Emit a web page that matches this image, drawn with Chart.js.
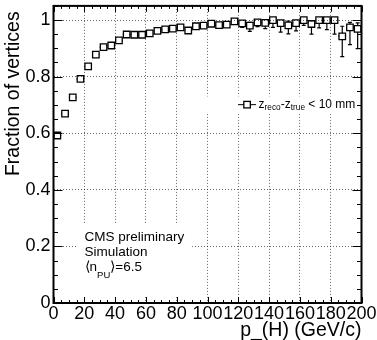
<!DOCTYPE html>
<html>
<head>
<meta charset="utf-8">
<script src="https://cdn.jsdelivr.net/npm/chart.js@4.4.1/dist/chart.umd.min.js"></script>
<style>
  html, body { margin: 0; padding: 0; background: #fff; }
</style>
</head>
<body>
<canvas id="effChart" width="377" height="340"></canvas>
<script>
// bin centres of p_T(H), 5 GeV bins
const binCenters = [2.5, 7.5, 12.5, 17.5, 22.5, 27.5, 32.5, 37.5, 42.5, 47.5,
  52.5, 57.5, 62.5, 67.5, 72.5, 77.5, 82.5, 87.5, 92.5, 97.5,
  102.5, 107.5, 112.5, 117.5, 122.5, 127.5, 132.5, 137.5, 142.5, 147.5,
  152.5, 157.5, 162.5, 167.5, 172.5, 177.5, 182.5, 187.5, 192.5, 197.5];
const binHalfWidth = 2.5;

const efficiency = [0.592, 0.669, 0.727, 0.792, 0.836, 0.878, 0.904, 0.910, 0.928, 0.949,
  0.948, 0.948, 0.953, 0.962, 0.967, 0.970, 0.974, 0.963, 0.978, 0.980,
  0.987, 0.982, 0.984, 0.995, 0.988, 0.980, 0.992, 0.990, 1.000, 0.989,
  0.981, 0.989, 1.000, 0.986, 1.000, 1.000, 1.000, 0.942, 0.974, 0.969];
const errLow = [0.006, 0.006, 0.006, 0.006, 0.006, 0.006, 0.006, 0.006, 0.006, 0.006,
  0.007, 0.007, 0.007, 0.007, 0.008, 0.008, 0.008, 0.010, 0.008, 0.009,
  0.008, 0.010, 0.010, 0.008, 0.014, 0.020, 0.015, 0.020, 0.026, 0.032,
  0.030, 0.027, 0.019, 0.036, 0.028, 0.034, 0.050, 0.071, 0.061, 0.070];
const errHigh = [0.006, 0.006, 0.006, 0.006, 0.006, 0.006, 0.006, 0.006, 0.006, 0.006,
  0.006, 0.006, 0.006, 0.006, 0.007, 0.007, 0.007, 0.009, 0.007, 0.008,
  0.007, 0.008, 0.008, 0.005, 0.008, 0.012, 0.007, 0.008, 0.000, 0.010,
  0.015, 0.010, 0.000, 0.012, 0.000, 0.000, 0.000, 0.036, 0.018, 0.021];

const xTickValues = [0, 20, 40, 60, 80, 100, 120, 140, 160, 180, 200];
const yTickValues = [0, 0.2, 0.4, 0.6, 0.8, 1];
const yTickLabels = ['0', '0.2', '0.4', '0.6', '0.8', '1'];

const FONT = "'Liberation Sans', Arial, Helvetica, sans-serif";
const MARKER_R = 4.6;
const markerHalf = MARKER_R * Math.SQRT1_2;

// ROOT-like frame, inner ticks, error bars, text boxes
const rootStyle = {
  id: 'rootStyle',
  beforeDatasetsDraw(chart) {
    const {ctx, scales: {x, y}} = chart;
    ctx.save();
    ctx.fillStyle = '#fff';
    // text pave
    let l = x.getPixelForValue(15), r = x.getPixelForValue(90);
    let t = y.getPixelForValue(0.276), b = y.getPixelForValue(0.021);
    ctx.fillRect(l, t, r - l, b - t);
    ctx.fillStyle = '#000';
    ctx.textBaseline = 'alphabetic';
    ctx.font = '13.5px ' + FONT;
    const tx = l + 8;
    ctx.fillText('CMS preliminary', tx, t + 16);
    ctx.fillText('Simulation', tx, t + 31);
    let cx = tx;
    ctx.fillText('\u27E8n', cx, t + 46);
    cx += ctx.measureText('\u27E8n').width;
    ctx.font = '9.5px ' + FONT;
    ctx.fillText('PU', cx, t + 53);
    cx += ctx.measureText('PU').width;
    ctx.font = '13.5px ' + FONT;
    ctx.fillText('\u27E9=6.5', cx, t + 46);

    // legend pave
    ctx.fillStyle = '#fff';
    l = x.getPixelForValue(98.5); r = x.getPixelForValue(196);
    t = y.getPixelForValue(0.73); b = y.getPixelForValue(0.67);
    ctx.fillRect(l, t, r - l, b - t);
    const mx = x.getPixelForValue(125.7), my = y.getPixelForValue(0.701);
    ctx.strokeStyle = '#000';
    ctx.lineWidth = 1;
    ctx.beginPath();
    ctx.moveTo(mx - 9, my); ctx.lineTo(mx - markerHalf, my);
    ctx.moveTo(mx + markerHalf, my); ctx.lineTo(mx + 9, my);
    ctx.stroke();
    ctx.lineWidth = 1.3;
    ctx.strokeRect(mx - markerHalf, my - markerHalf, 2 * markerHalf, 2 * markerHalf);
    ctx.fillStyle = '#000';
    ctx.textBaseline = 'middle';
    cx = mx + 11.5;
    const big = '12px ' + FONT, small = '8.3px ' + FONT;
    const parts = [['z', big, 0], ['reco', small, 3], ['-z', big, 0], ['true', small, 3], [' < 10 mm', big, 0]];
    parts.forEach(([s, f, dy]) => {
      ctx.font = f;
      ctx.fillText(s, cx, my + dy);
      cx += ctx.measureText(s).width;
    });
    ctx.restore();
  },
  afterDatasetsDraw(chart) {
    const {ctx, scales: {x, y}} = chart;
    const meta = chart.getDatasetMeta(0);
    ctx.save();
    ctx.strokeStyle = '#000';
    ctx.lineWidth = 1.2;
    ctx.beginPath();
    meta.data.forEach((pt, i) => {
      const px = pt.x, py = pt.y;
      const yLo = y.getPixelForValue(efficiency[i] - errLow[i]);
      const yHi = y.getPixelForValue(efficiency[i] + errHigh[i]);
      const xL = x.getPixelForValue(binCenters[i] - binHalfWidth);
      const xR = x.getPixelForValue(binCenters[i] + binHalfWidth);
      if (yLo > py + markerHalf) {
        ctx.moveTo(px, py + markerHalf); ctx.lineTo(px, yLo);
        ctx.moveTo(px - 2, yLo); ctx.lineTo(px + 2, yLo);
      }
      if (yHi < py - markerHalf) {
        ctx.moveTo(px, py - markerHalf); ctx.lineTo(px, yHi);
        ctx.moveTo(px - 2, yHi); ctx.lineTo(px + 2, yHi);
      }
      if (xL < px - markerHalf) {
        ctx.moveTo(xL, py); ctx.lineTo(px - markerHalf, py);
        ctx.moveTo(px + markerHalf, py); ctx.lineTo(xR, py);
      }
    });
    ctx.stroke();
    ctx.restore();
  },
  afterDraw(chart) {
    const {ctx, chartArea: {left, right, top, bottom}, scales: {x, y}} = chart;
    ctx.save();
    ctx.strokeStyle = '#000';
    ctx.lineWidth = 1;
    ctx.beginPath();
    for (let v = 0; v <= 200; v += 5) {
      const p = Math.round(x.getPixelForValue(v)) + 0.5;
      const len = v % 20 === 0 ? 6 : 3;
      ctx.moveTo(p, bottom); ctx.lineTo(p, bottom - len);
      ctx.moveTo(p, top); ctx.lineTo(p, top + len);
    }
    for (let k = 0; k <= 21; k++) {
      const p = Math.round(y.getPixelForValue(k * 0.05)) + 0.5;
      const len = k % 4 === 0 ? 9 : 4.5;
      ctx.moveTo(left, p); ctx.lineTo(left + len, p);
      ctx.moveTo(right, p); ctx.lineTo(right - len, p);
    }
    ctx.stroke();
    ctx.lineWidth = 2;
    ctx.strokeRect(left, top, right - left, bottom - top);
    ctx.restore();
  }
};

const ctx = document.getElementById('effChart');

new Chart(ctx, {
  type: 'scatter',
  data: {
    datasets: [{
      label: 'z_reco-z_true < 10 mm',
      data: binCenters.map((c, i) => ({x: c, y: efficiency[i]})),
      pointStyle: 'rect',
      pointRadius: MARKER_R,
      pointBorderWidth: 1.3,
      pointBorderColor: '#000',
      pointBackgroundColor: 'rgba(255,255,255,0)',
      showLine: false
    }]
  },
  options: {
    responsive: false,
    animation: false,
    devicePixelRatio: 1,
    layout: { padding: { top: 5.5, right: 15.5, left: 0, bottom: 0 } },
    plugins: { legend: { display: false }, tooltip: { enabled: false } },
    scales: {
      x: {
        type: 'linear',
        min: 0, max: 200,
        afterFit(s) { s.height = 37; s.paddingLeft = 0; s.paddingRight = 0; },
        afterBuildTicks(s) { s.ticks = xTickValues.map(v => ({value: v})); },
        ticks: {
          font: { family: FONT, size: 18 },
          color: '#000',
          padding: 0,
          maxRotation: 0,
          autoSkip: false,
          callback: v => String(v)
        },
        grid: { color: 'rgba(0,0,0,0.6)', lineWidth: 1, drawTicks: false },
        border: { display: false, dash: [1, 2] },
        title: {
          display: true,
          text: 'p_(H) (GeV/c)',
          align: 'end',
          color: '#000',
          font: { family: FONT, size: 19.5, lineHeight: 1 },
          padding: { top: 0, bottom: 0 }
        }
      },
      y: {
        type: 'linear',
        min: 0, max: 1.05,
        afterFit(s) { s.width = 53.5; s.paddingTop = 0; s.paddingBottom = 0; },
        afterBuildTicks(s) { s.ticks = yTickValues.map(v => ({value: v})); },
        ticks: {
          font: { family: FONT, size: 18 },
          color: '#000',
          padding: 3,
          callback: (v, i) => yTickLabels[i]
        },
        grid: { color: 'rgba(0,0,0,0.6)', lineWidth: 1, drawTicks: false },
        border: { display: false, dash: [1, 2] },
        title: {
          display: true,
          text: 'Fraction of vertices ',
          align: 'end',
          color: '#000',
          font: { family: FONT, size: 19.5 },
          padding: { top: 2, bottom: 0 }
        }
      }
    }
  },
  plugins: [rootStyle]
});
</script>
</body>
</html>
